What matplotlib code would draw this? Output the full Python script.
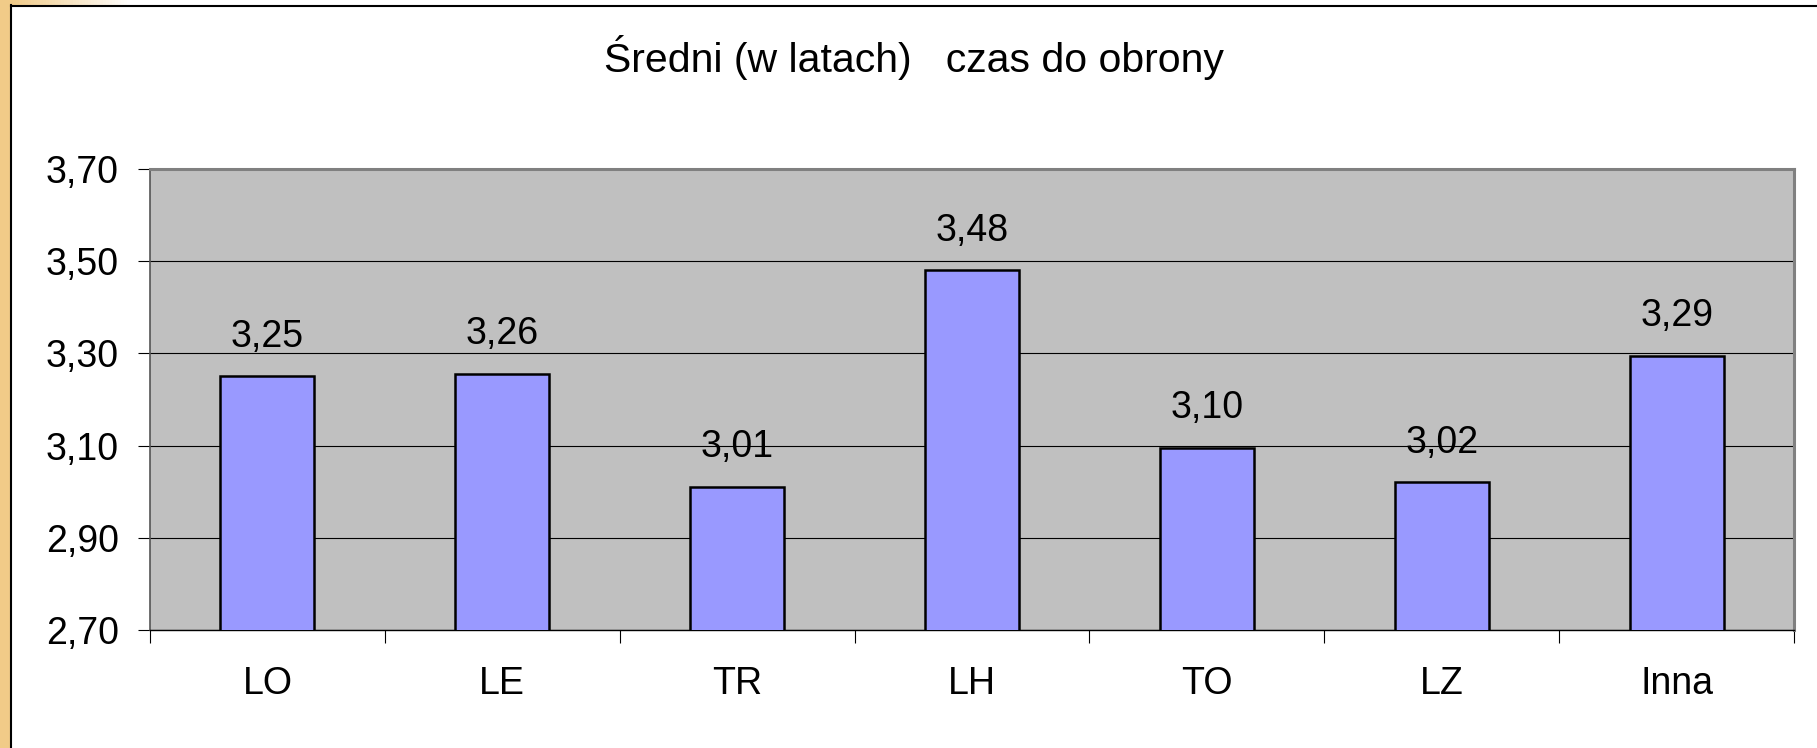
import matplotlib.pyplot as plt
import numpy as np
from matplotlib.patches import Rectangle
from matplotlib.lines import Line2D

# data
kategorie = ["LO", "LE", "TR", "LH", "TO", "LZ", "Inna"]
wartosci = [3.25, 3.255, 3.01, 3.48, 3.095, 3.02, 3.295]
etykiety = ["3,25", "3,26", "3,01", "3,48", "3,10", "3,02", "3,29"]
y_ticks = [2.70, 2.90, 3.10, 3.30, 3.50, 3.70]
tytul = "Średni (w latach)   czas do obrony"

W, H = 1817, 748
plt.rcParams['font.family'] = ['Liberation Sans', 'DejaVu Sans']

fig = plt.figure(figsize=(W / 100, H / 100), dpi=100)
fig.patch.set_facecolor("white")

# orange strip on the left + faded top strip
fig.patches.append(Rectangle((0, 0), 10 / W, 1, transform=fig.transFigure,
                             facecolor="#F1CB88", edgecolor="none", zorder=0))
for i in range(40):
    a = 1 - i / 40
    fig.patches.append(Rectangle((10 / W + i * 3 / W, 1 - 5 / H), 3 / W, 5 / H,
                                 transform=fig.transFigure, facecolor="#F1CB88",
                                 alpha=a, edgecolor="none", zorder=0))
fig.lines.append(Line2D([10.5 / W, 10.5 / W], [0, 1 - 5 / H], transform=fig.transFigure,
                        color="black", lw=1.5))
fig.lines.append(Line2D([10.5 / W, 1], [1 - 5.5 / H, 1 - 5.5 / H], transform=fig.transFigure,
                        color="black", lw=1.5))

ax = fig.add_axes([150 / W, 1 - 630 / H, (1794 - 150) / W, (630 - 169) / H])
ax.set_facecolor("#C0C0C0")

x = np.arange(len(kategorie))
ax.bar(x, wartosci, width=0.4, color="#9999FF", edgecolor="black", linewidth=1.8,
       zorder=3)

for xi, v, t in zip(x, wartosci, etykiety):
    ax.annotate(t, (xi, v), xytext=(0, 21.5), textcoords="offset points",
                ha="center", va="baseline", fontsize=27)

ax.set_xlim(-0.5, len(kategorie) - 0.5)
ax.set_ylim(2.70, 3.70)
ax.set_yticks(y_ticks)
ax.set_yticklabels([f"{v:.2f}".replace(".", ",") for v in y_ticks], fontsize=27)
ax.yaxis.grid(True, color="black", linewidth=0.8, zorder=1)
ax.set_axisbelow(True)

ax.set_xticks(x)
ax.set_xticklabels(kategorie, fontsize=27)
ax.set_xticks(np.arange(-0.5, len(kategorie)), minor=True)
ax.tick_params(axis="x", which="major", length=0, pad=26)
ax.tick_params(axis="x", which="minor", length=9.5, width=0.8, color="black", direction="out")
ax.tick_params(axis="y", length=8.5, width=0.8, color="black", pad=14)

for s in ["top", "right"]:
    ax.spines[s].set_color("#808080")
    ax.spines[s].set_linewidth(2.2)
ax.spines["left"].set_color("#555555")
ax.spines["left"].set_linewidth(1.2)
ax.spines["bottom"].set_color("black")
ax.spines["bottom"].set_linewidth(1.0)

fig.text(914 / W, 1 - 58 / H, tytul, ha="center", va="center", fontsize=29.5)

fig.savefig("out.png", dpi=100)
